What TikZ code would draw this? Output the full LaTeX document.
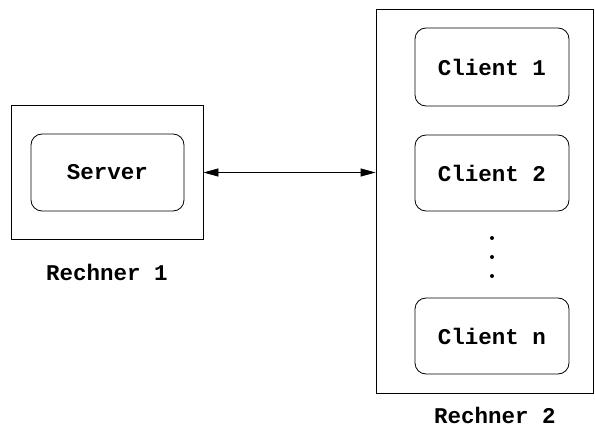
\documentclass[tikz,border=0pt]{standalone}
\usepackage{fontspec}
\setmonofont{Liberation Mono}
\usetikzlibrary{arrows.meta}
\begin{document}
\begin{tikzpicture}[x=1pt,y=-1pt,
  host/.style={draw,line width=0.8pt,rectangle,inner sep=0pt},
  proc/.style={draw,line width=0.8pt,rectangle,rounded corners=11pt,inner sep=0pt,
    font=\ttfamily\bfseries\fontsize{22.5}{25}\selectfont},
  caption/.style={font=\ttfamily\bfseries\fontsize{22.5}{25}\selectfont},
  dot/.style={circle,fill,inner sep=0pt,minimum size=4pt},
  tip/.style={Triangle[length=15pt,width=8pt]}]
\useasboundingbox (0,0) rectangle (595,436);
% machine 1 with the server
\node[host,minimum width=192pt,minimum height=134pt] (r1) at (107,172) {};
\node[proc,minimum width=153pt,minimum height=77pt] (srv) at (107.5,172.5) {Server};
\node[caption] (l1) at (107,272) {Rechner 1};
% machine 2 with the clients
\node[host,minimum width=217pt,minimum height=384pt] (r2) at (484.5,201) {};
\node[proc,minimum width=154pt,minimum height=78pt] (c1) at (492,67) {Client 1};
\node[proc,minimum width=154pt,minimum height=76pt] (c2) at (492,173) {Client 2};
\node[proc,minimum width=154pt,minimum height=76pt] (cn) at (492,336) {Client n};
\node[dot] (d1) at (492,238) {};
\node[dot] (d2) at (492,257) {};
\node[dot] (d3) at (492,276) {};
\node[caption] (l2) at (495,415) {Rechner 2};
% connection between the two machines
\draw[line width=0.8pt,{Triangle[length=15pt,width=8pt]}-{Triangle[length=15pt,width=8pt]}]
  (r1.east |- srv) -- (r2.west |- srv);
\end{tikzpicture}
\end{document}
